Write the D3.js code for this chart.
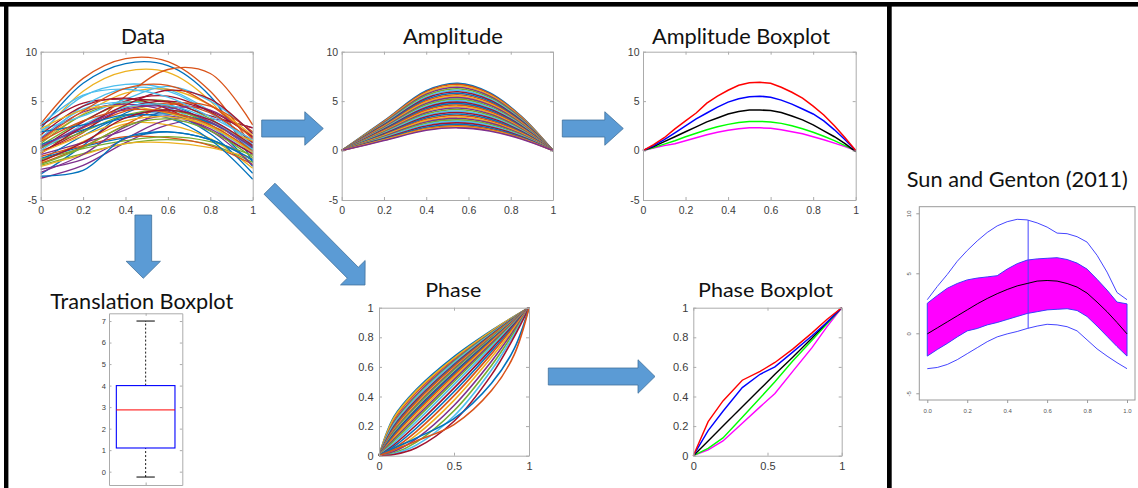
<!DOCTYPE html>
<html>
<head>
<meta charset="utf-8">
<script src="https://cdn.jsdelivr.net/npm/d3@7"></script>
<style>
  body { margin: 0; background: #fff; }
  .title { font-family: Lato, "Open Sans", sans-serif; fill: #111; }
</style>
</head>
<body>
<svg id="fig" width="1138" height="488"></svg>
<script>
// MATLAB default line colours
const mlColors = ["#0072BD", "#D95319", "#EDB120", "#7E2F8E", "#77AC30", "#4DBEEE", "#A2142F"];

// ---- Data panel (raw curves) ----
const dataX = [0, 0.2, 0.4, 0.6, 0.8, 1];
const dataCurves = [
  [2.2, 6.8, 8.8, 8.6, 5.5, -1.2],
  [2.7, 7.3, 9.3, 9.0, 6.0, 0.3],
  [1.5, 6.0, 8.0, 7.9, 5.0, -0.5],
  [-2.8, -1.5, 0.8, 2.6, 3.2, 2.3],
  [0.5, 3.0, 4.8, 5.0, 3.2, 0.2],
  [1.8, 5.5, 6.7, 6.2, 4.0, 0.8],
  [2.5, 4.8, 5.2, 4.9, 3.5, 2.3],
  [-2.4, 0.5, 3.8, 4.6, 2.6, -1.6],
  [0.0, 1.8, 5.5, 8.2, 7.8, 2.6],
  [-1.2, 0.9, 2.7, 2.6, 1.2, -1.8],
  [-0.4, 0.8, 2.1, 4.2, 4.1, 1.3],
  [-1.5, -0.3, 0.7, 1.1, 0.6, -1.2],
  [0.9, 4.5, 6.3, 6.0, 3.8, 0.6],
  [0.2, 2.9, 5.0, 5.5, 3.9, 0.8],
  [-0.8, 0.4, 1.3, 1.9, 1.1, -1.0],
  [0.3, 2.3, 4.0, 4.8, 3.8, 0.9],
  [1.0, 3.7, 5.8, 6.2, 4.6, 1.5],
  [-1.9, -0.9, 1.2, 3.1, 2.8, 0.0],
  [0.7, 3.6, 4.9, 4.5, 2.6, 0.0],
  [1.3, 4.2, 4.9, 4.3, 2.4, -0.2],
  [-0.2, 2.0, 4.3, 5.0, 4.0, 1.4],
  [-1.0, 1.5, 3.5, 3.8, 1.7, -2.3],
  [-0.6, 0.5, 1.4, 1.3, 0.5, -1.4],
  [-1.6, -0.4, 0.7, 0.8, 0.3, -0.8],
  [1.2, 3.9, 4.7, 4.0, 2.2, -0.4],
  [0.3, 1.9, 3.6, 4.1, 2.9, 0.4],
  [2.1, 3.5, 5.2, 6.5, 5.0, 1.8],
  [1.6, 4.5, 5.3, 4.2, 2.0, -0.3],
  [0.6, 2.1, 3.3, 3.7, 2.8, 0.3],
  [-1.3, 0.4, 2.6, 4.6, 4.5, 1.9],
  [2.2, 4.1, 4.5, 3.8, 2.5, 1.0],
  [-2.2, -0.4, 2.4, 3.5, 2.0, -1.5],
  [-0.9, 0.2, 1.0, 1.4, 0.9, -0.5],
  [0.0, 2.6, 4.4, 4.6, 3.1, 0.1],
  [-0.3, 2.4, 4.6, 6.1, 5.2, 1.7],
  [1.9, 2.6, 3.6, 3.3, 1.1, -2.9],
  [0.9, 3.0, 4.1, 3.9, 2.6, -0.1],
  [-0.2, 1.5, 3.0, 3.4, 2.4, -0.2],
  [0.4, 2.4, 4.2, 4.4, 2.9, 0.3],
  [-1.4, 0.3, 2.5, 3.2, 2.0, -0.7],
  [2.6, 5.6, 6.2, 5.4, 3.4, 1.1],
  [-1.1, 0.8, 3.3, 4.1, 3.1, 0.5],
  [-2.6, -2.0, 1.3, 1.9, 1.1, -0.9],
  [1.1, 4.0, 6.3, 6.6, 4.6, 1.2]
];

// ---- Amplitude panel ----
const ampX = [0, 0.2, 0.4, 0.55, 0.7, 0.85, 1];
const ampCurves = [
  [0, 3.00, 6.05, 6.80, 5.85, 3.47, 0],
  [0, 2.95, 5.96, 6.70, 5.76, 3.42, 0],
  [0, 2.88, 5.83, 6.55, 5.63, 3.34, 0],
  [0, 2.82, 5.70, 6.40, 5.50, 3.26, 0],
  [0, 2.75, 5.56, 6.25, 5.38, 3.19, 0],
  [0, 2.68, 5.43, 6.10, 5.25, 3.11, 0],
  [0, 2.62, 5.30, 5.95, 5.12, 3.03, 0],
  [0, 2.55, 5.16, 5.80, 4.99, 2.96, 0],
  [0, 2.49, 5.03, 5.65, 4.86, 2.88, 0],
  [0, 2.42, 4.90, 5.50, 4.73, 2.81, 0],
  [0, 2.35, 4.76, 5.35, 4.60, 2.73, 0],
  [0, 2.29, 4.63, 5.20, 4.47, 2.65, 0],
  [0, 2.22, 4.49, 5.05, 4.34, 2.58, 0],
  [0, 2.16, 4.36, 4.90, 4.21, 2.50, 0],
  [0, 2.09, 4.23, 4.75, 4.09, 2.42, 0],
  [0, 2.02, 4.09, 4.60, 3.96, 2.35, 0],
  [0, 1.96, 3.96, 4.45, 3.83, 2.27, 0],
  [0, 1.89, 3.83, 4.30, 3.70, 2.19, 0],
  [0, 1.83, 3.69, 4.15, 3.57, 2.12, 0],
  [0, 1.76, 3.56, 4.00, 3.44, 2.04, 0],
  [0, 1.69, 3.43, 3.85, 3.31, 1.96, 0],
  [0, 1.63, 3.29, 3.70, 3.18, 1.89, 0],
  [0, 1.56, 3.16, 3.55, 3.05, 1.81, 0],
  [0, 1.50, 3.03, 3.40, 2.92, 1.73, 0],
  [0, 1.43, 2.89, 3.25, 2.80, 1.66, 0],
  [0, 1.36, 2.76, 3.10, 2.67, 1.58, 0],
  [0, 1.30, 2.63, 2.95, 2.54, 1.50, 0],
  [0, 1.23, 2.49, 2.80, 2.41, 1.43, 0],
  [0, 1.17, 2.36, 2.65, 2.28, 1.35, 0],
  [0, 1.10, 2.23, 2.50, 2.15, 1.28, 0],
  [0, 1.06, 2.14, 2.40, 2.06, 1.22, 0],
  [0, 1.01, 2.05, 2.30, 1.98, 1.17, 0]
];

// ---- Amplitude boxplot ----
const ampBoxX = [0, .05, .1, .15, .2, .25, .3, .35, .4, .45, .5, .55, .6, .65, .7, .75, .8, .85, .9, .95, 1];
const ampMax = [0, .6, 1.3, 2.2, 3.0, 3.8, 4.8, 5.5, 6.1, 6.6, 6.85, 6.9, 6.8, 6.4, 5.9, 5.3, 4.5, 3.6, 2.5, 1.3, 0];
const ampQ3 = [0, .5, 1.1, 1.8, 2.5, 3.2, 3.8, 4.4, 4.9, 5.25, 5.45, 5.5, 5.4, 5.1, 4.7, 4.2, 3.7, 3.0, 2.1, 1.1, 0];
const ampMed = [0, .4, .9, 1.4, 1.9, 2.4, 2.9, 3.3, 3.7, 3.95, 4.1, 4.1, 4.05, 3.85, 3.5, 3.1, 2.6, 2.0, 1.4, .7, -.1];
const ampQ1 = [0, .3, .65, 1.0, 1.4, 1.75, 2.1, 2.4, 2.65, 2.85, 2.95, 2.95, 2.9, 2.75, 2.5, 2.2, 1.85, 1.45, 1.0, .5, 0];
const ampMin = [0, .25, .5, .7, 1.0, 1.3, 1.6, 1.85, 2.05, 2.2, 2.3, 2.3, 2.25, 2.1, 1.9, 1.7, 1.4, 1.1, .75, .4, 0];

// ---- Translation boxplot: [lower whisker, q1, median, q3, upper whisker] ----
const transBox = [-0.25, 1.1, 2.87, 4.0, 7.0];
const transTicks = [0, 1, 2, 3, 4, 5, 6, 7];

// ---- Phase panel ----
const phaseX = [0, 0.1, 0.25, 0.5, 0.75, 0.9, 1];
const phaseCurves = [
  [0, .263, .448, .669, .846, .941, 1],
  [0, .245, .429, .655, .839, .938, 1],
  [0, .255, .440, .660, .842, .940, 1],
  [0, .229, .412, .642, .832, .935, 1],
  [0, .220, .402, .636, .829, .934, 1],
  [0, .214, .395, .629, .825, .932, 1],
  [0, .200, .379, .616, .818, .929, 1],
  [0, .193, .371, .610, .815, .928, 1],
  [0, .186, .364, .603, .811, .926, 1],
  [0, .174, .349, .591, .804, .923, 1],
  [0, .168, .341, .585, .800, .921, 1],
  [0, .162, .334, .578, .797, .920, 1],
  [0, .151, .321, .566, .790, .917, 1],
  [0, .146, .314, .560, .786, .915, 1],
  [0, .141, .308, .555, .783, .914, 1],
  [0, .132, .295, .543, .776, .911, 1],
  [0, .120, .279, .529, .767, .908, 1],
  [0, .110, .264, .514, .759, .904, 1],
  [0, .100, .250, .500, .750, .900, 1],
  [0, .087, .230, .480, .737, .894, 1],
  [0, .074, .209, .457, .722, .888, 1],
  [0, .062, .187, .432, .706, .880, 1],
  [0, .050, .165, .406, .688, .872, 1],
  [0, .038, .140, .374, .665, .861, 1],
  [0, .028, .115, .339, .638, .848, 1],
  [0, .019, .092, .304, .610, .834, 1],
  [0, .013, .072, .268, .579, .818, 1],
  [0, .008, .054, .233, .546, .801, 1],
  [0, .050, .120, .250, .490, .720, 1],
  [0, .040, .100, .210, .440, .680, 1]
];

// ---- Phase boxplot ----
const phaseBoxX = [0, .1, .2, .33, .45, .55, .67, .8, .9, 1];
const phaseMax = [0, .23, .37, .51, .57, .63, .72, .83, .92, 1];
const phaseQ3 = [0, .17, .30, .46, .55, .60, .70, .81, .90, 1];
const phaseMed = [0, .10, .20, .33, .45, .55, .665, .795, .90, 1];
const phaseQ1 = [0, .05, .12, .26, .39, .50, .64, .78, .89, 1];
const phaseMin = [0, .04, .10, .22, .33, .42, .57, .73, .87, 1];

// ---- Sun and Genton (2011) functional boxplot ----
const sgX = [0, .05, .1, .15, .2, .25, .3, .35, .4, .45, .5, .55, .6, .65, .7, .75, .8, .85, .9, .95, 1];
const sgUpper = [2.8, 3.9, 4.9, 6.0, 6.9, 7.7, 8.4, 8.95, 9.3, 9.5, 9.45, 9.2, 8.85, 8.35, 8.3, 8.05, 7.6, 6.5, 5.1, 3.4, 2.8];
const sgLower = [-2.95, -2.85, -2.6, -2.2, -1.7, -1.2, -0.7, -0.3, -0.05, 0.15, 0.4, 0.6, 0.75, 0.7, 0.55, 0.2, -0.55, -1.3, -1.9, -2.45, -2.95];
const sgBandHi = [2.5, 3.15, 3.75, 4.15, 4.45, 4.6, 4.7, 4.8, 5.35, 5.8, 6.1, 6.2, 6.25, 6.3, 6.15, 5.85, 5.35, 4.5, 3.6, 2.6, 2.45];
const sgBandLo = [-1.9, -1.35, -0.85, -0.3, 0.2, 0.4, 0.7, 0.9, 1.15, 1.4, 1.65, 1.8, 1.95, 2.0, 2.05, 1.9, 1.4, 0.6, -0.25, -1.1, -1.9];
const sgMedian = [-0.05, 0.45, 0.95, 1.45, 1.95, 2.45, 2.9, 3.3, 3.65, 3.95, 4.15, 4.35, 4.4, 4.35, 4.15, 3.85, 3.35, 2.6, 1.8, 0.9, -0.05];
const sgWhisker = [0.505, 0.42, 9.44]; // x, from, to

const svg = d3.select("#fig");

// frame
svg.append("rect").attr("x", 0).attr("y", 2).attr("width", 1138).attr("height", 4.6).attr("fill", "#000");
svg.append("rect").attr("x", 4).attr("y", 2).attr("width", 4.4).attr("height", 486).attr("fill", "#000");
svg.append("rect").attr("x", 887).attr("y", 2).attr("width", 4.7).attr("height", 486).attr("fill", "#000");

function title(txt, cx, baseline, size, width) {
  svg.append("text").attr("class", "title")
    .attr("x", cx).attr("y", baseline)
    .attr("text-anchor", "middle")
    .attr("font-size", size)
    .attr("textLength", width).attr("lengthAdjust", "spacingAndGlyphs")
    .text(txt);
}

// MATLAB-style axes: box with inward ticks on all sides
function matlabAxes(box, xDom, yDom, xTicks, yTicks, o) {
  const x = d3.scaleLinear().domain(xDom).range([box.x0, box.x1]);
  const y = d3.scaleLinear().domain(yDom).range([box.y1, box.y0]);
  const g = svg.append("g");
  const tl = o.tick || 3;
  const fmt = d => String(d).replace("\u2212", "-");
  g.append("g").attr("transform", `translate(0,${box.y1})`)
    .call(d3.axisBottom(x).tickValues(xTicks).tickSizeInner(-tl).tickSizeOuter(0)
      .tickPadding(o.xPad).tickFormat(o.noX ? "" : fmt));
  g.append("g").attr("transform", `translate(0,${box.y0})`)
    .call(d3.axisTop(x).tickValues(xTicks).tickSizeInner(-tl).tickSizeOuter(0).tickFormat(""));
  g.append("g").attr("transform", `translate(${box.x0},0)`)
    .call(d3.axisLeft(y).tickValues(yTicks).tickSizeInner(-tl).tickSizeOuter(0)
      .tickPadding(o.yPad).tickFormat(fmt));
  g.append("g").attr("transform", `translate(${box.x1},0)`)
    .call(d3.axisRight(y).tickValues(yTicks).tickSizeInner(-tl).tickSizeOuter(0).tickFormat(""));
  g.selectAll(".domain, .tick line").attr("stroke", "#ababab");
  g.selectAll("g").attr("font-family", "'Liberation Sans', Arial, sans-serif").attr("font-size", o.fs);
  g.selectAll("text").attr("fill", "#3c3c3c");
  return { x, y, g };
}

function drawCurves(ax, xs, rows, width, curve) {
  const line = d3.line().x((d, i) => ax.x(xs[i])).y(d => ax.y(d)).curve(curve);
  svg.insert("g", () => ax.g.node()).selectAll("path").data(rows).join("path")
    .attr("d", line).attr("fill", "none")
    .attr("stroke", (d, i) => mlColors[i % mlColors.length])
    .attr("stroke-width", width);
}

function drawSet(ax, xs, series, colors, width) {
  const line = d3.line().x((d, i) => ax.x(xs[i])).y(d => ax.y(d));
  svg.insert("g", () => ax.g.node()).selectAll("path").data(series).join("path")
    .attr("d", line).attr("fill", "none")
    .attr("stroke", (d, i) => colors[i]).attr("stroke-width", width);
}

const fTicks = [0, 0.2, 0.4, 0.6, 0.8, 1];
const fYTicks = [-5, 0, 5, 10];

// Data
const axData = matlabAxes({ x0: 40.7, x1: 252.7, y0: 51.7, y1: 200 }, [0, 1], [-5, 10], fTicks, fYTicks, { xPad: 6.5, yPad: 3.5, fs: 10.5 });
drawCurves(axData, dataX, dataCurves, 1.3, d3.curveCatmullRom);
title("Data", 143, 43.5, 21, 44);

// Amplitude
const axAmp = matlabAxes({ x0: 341.7, x1: 553, y0: 51.7, y1: 200 }, [0, 1], [-5, 10], fTicks, fYTicks, { xPad: 6.5, yPad: 3.5, fs: 10.5 });
drawCurves(axAmp, ampX, ampCurves, 1.6, d3.curveCatmullRom);
title("Amplitude", 453, 43.5, 21, 100);

// Amplitude Boxplot
const axAmpB = matlabAxes({ x0: 643, x1: 855.7, y0: 51.7, y1: 200 }, [0, 1], [-5, 10], fTicks, fYTicks, { xPad: 6.5, yPad: 3.5, fs: 10.5 });
drawSet(axAmpB, ampBoxX, [ampMin, ampQ1, ampMed, ampQ3, ampMax], ["#ff00ff", "#00ff00", "#000000", "#0000ff", "#ff0000"], 1.5);
title("Amplitude Boxplot", 741, 43.5, 21, 178);

// Translation Boxplot
const axT = matlabAxes({ x0: 109, x1: 182.3, y0: 313.3, y1: 485 }, [0.5, 1.5], [-0.62, 7.36], [1], transTicks, { xPad: 4, yPad: 3, fs: 7.5, tick: 2.5, noX: true });
{
  const x = axT.x, y = axT.y;
  const tg = svg.insert("g", () => axT.g.node());
  const [lo, q1, med, q3, hi] = transBox;
  tg.append("line").attr("x1", x(1)).attr("x2", x(1)).attr("y1", y(q3)).attr("y2", y(hi))
    .attr("stroke", "#000").attr("stroke-dasharray", "2,2").attr("stroke-width", 0.9);
  tg.append("line").attr("x1", x(1)).attr("x2", x(1)).attr("y1", y(lo)).attr("y2", y(q1))
    .attr("stroke", "#000").attr("stroke-dasharray", "2,2").attr("stroke-width", 0.9);
  [lo, hi].forEach(v => tg.append("line").attr("x1", x(0.875)).attr("x2", x(1.125))
    .attr("y1", y(v)).attr("y2", y(v)).attr("stroke", "#000").attr("stroke-width", 1));
  tg.append("rect").attr("x", x(0.6)).attr("width", x(1.4) - x(0.6))
    .attr("y", y(q3)).attr("height", y(q1) - y(q3))
    .attr("fill", "none").attr("stroke", "#0000ff").attr("stroke-width", 1.1);
  tg.append("line").attr("x1", x(0.6)).attr("x2", x(1.4)).attr("y1", y(med)).attr("y2", y(med))
    .attr("stroke", "#ff0000").attr("stroke-width", 1);
}
title("Translation Boxplot", 141.7, 309.3, 22, 183);

// Phase
const axPh = matlabAxes({ x0: 379, x1: 529, y0: 307.7, y1: 455.7 }, [0, 1], [0, 1], [0, 0.5, 1], [0, 0.2, 0.4, 0.6, 0.8, 1], { xPad: 6.5, yPad: 5.5, fs: 11 });
drawCurves(axPh, phaseX, phaseCurves, 1.6, d3.curveCatmullRom);
title("Phase", 453.3, 296.7, 20, 56);

// Phase Boxplot
const axPhB = matlabAxes({ x0: 693.3, x1: 841.7, y0: 307.7, y1: 455.7 }, [0, 1], [0, 1], [0, 0.5, 1], [0, 0.2, 0.4, 0.6, 0.8, 1], { xPad: 6.5, yPad: 5, fs: 11 });
drawSet(axPhB, phaseBoxX, [phaseMin, phaseQ1, phaseMed, phaseQ3, phaseMax], ["#ff00ff", "#00ff00", "#000000", "#0000ff", "#ff0000"], 1.4);
title("Phase Boxplot", 765.5, 296.7, 20, 135);

// Sun and Genton (2011) – R style
{
  const x = d3.scaleLinear().domain([-0.04, 1.04]).range([919.3, 1135]);
  const y = d3.scaleLinear().domain([-5.56, 10.55]).range([400, 206.7]);
  const g = svg.append("g");
  const band = d3.area().x((d, i) => x(sgX[i])).y0((d, i) => y(sgBandLo[i])).y1(d => y(d));
  g.append("path").datum(sgBandHi).attr("d", band)
    .attr("fill", "#ff00ff").attr("stroke", "#3b3bff").attr("stroke-width", 1);
  const line = d3.line().x((d, i) => x(sgX[i])).y(d => y(d));
  g.append("path").datum(sgUpper).attr("d", line).attr("fill", "none").attr("stroke", "#4545ff").attr("stroke-width", 1);
  g.append("path").datum(sgLower).attr("d", line).attr("fill", "none").attr("stroke", "#4545ff").attr("stroke-width", 1);
  g.append("line").attr("x1", x(sgWhisker[0])).attr("x2", x(sgWhisker[0]))
    .attr("y1", y(sgWhisker[1])).attr("y2", y(sgWhisker[2])).attr("stroke", "#4545ff").attr("stroke-width", 1);
  g.append("path").datum(sgMedian).attr("d", line).attr("fill", "none").attr("stroke", "#000").attr("stroke-width", 1);
  g.append("rect").attr("x", 919.3).attr("y", 206.7).attr("width", 1135 - 919.3).attr("height", 400 - 206.7)
    .attr("fill", "none").attr("stroke", "#9a9a9a").attr("stroke-width", 1);
  g.append("g").attr("transform", "translate(0,400)")
    .call(d3.axisBottom(x).tickValues([0, 0.2, 0.4, 0.6, 0.8, 1]).tickSize(3).tickPadding(6).tickFormat(d3.format(".1f")));
  const ya = g.append("g").attr("transform", "translate(919.3,0)")
    .call(d3.axisLeft(y).tickValues([-5, 0, 5, 10]).tickSize(3).tickFormat(d => String(d)));
  ya.selectAll("text").attr("x", null).attr("dy", null).attr("text-anchor", "middle")
    .attr("transform", "translate(-8.8,0) rotate(-90)");
  g.selectAll(".domain").remove();
  g.selectAll(".tick line").attr("stroke", "#9a9a9a");
  g.selectAll("g").attr("font-family", "'Liberation Sans', Arial, sans-serif").attr("font-size", 6);
  g.selectAll("text").attr("fill", "#555");
}
title("Sun and Genton (2011)", 1017.3, 186.7, 21, 221);

// arrows
function arrow(x0, y0, x1, y1, sw, hw, hl) {
  const L = Math.hypot(x1 - x0, y1 - y0);
  const ux = (x1 - x0) / L, uy = (y1 - y0) / L, nx = -uy, ny = ux;
  const bx = x1 - ux * hl, by = y1 - uy * hl;
  const pts = [
    [x0 + nx * sw / 2, y0 + ny * sw / 2], [bx + nx * sw / 2, by + ny * sw / 2],
    [bx + nx * hw / 2, by + ny * hw / 2], [x1, y1],
    [bx - nx * hw / 2, by - ny * hw / 2], [bx - nx * sw / 2, by - ny * sw / 2],
    [x0 - nx * sw / 2, y0 - ny * sw / 2]
  ];
  svg.append("path").attr("d", d3.line()(pts) + "Z")
    .attr("fill", "#5b9bd5").attr("stroke", "#41719c").attr("stroke-width", 0.8);
}
arrow(261.7, 128.5, 323.3, 128.5, 17, 33.5, 18.5);
arrow(562.3, 128.5, 623.3, 128.5, 17, 33.5, 18.5);
arrow(269.5, 188.7, 365, 285, 15.5, 34.7, 17.3);
arrow(548.3, 376.5, 655, 376.5, 17, 33.5, 17);
arrow(143.3, 215, 143.3, 278.3, 16.7, 34.3, 17);
</script>
</body>
</html>
